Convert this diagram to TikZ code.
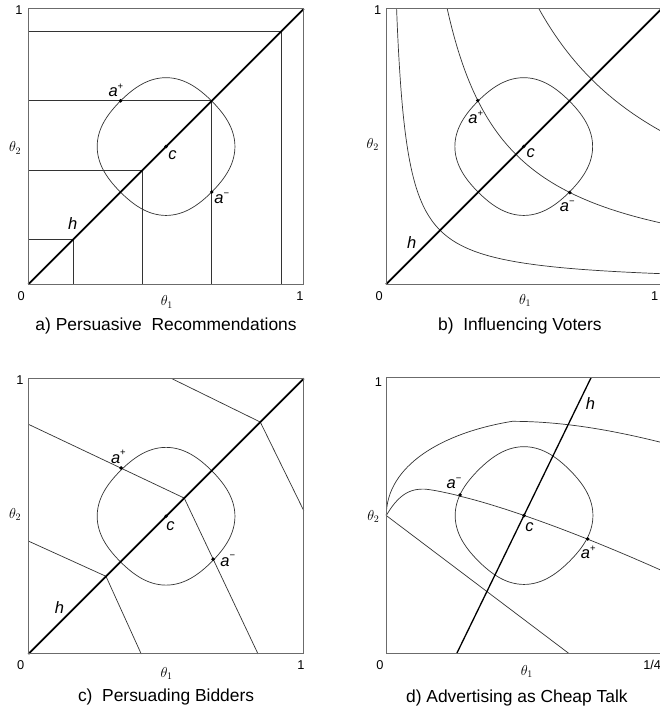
\documentclass[tikz,border=0pt]{standalone}
\usepackage{fontspec}
\setmainfont{Liberation Sans}
\newcommand\sgn[1]{\raisebox{0.45em}{\upshape\fontsize{9.5}{9.5}\selectfont #1}}
\tikzset{
  frame/.style={draw=black!58, line width=1pt},
  curve/.style={draw=black!80, line width=0.7pt},
  diag/.style={draw=black, line width=1.7pt},
  hcurve/.style={draw=black, line width=1.3pt},
  dot/.style={circle, fill=black, inner sep=0pt, minimum size=3.9pt},
  lab/.style={font=\fontsize{16.5}{16.5}\selectfont\itshape, inner sep=0pt},
  num/.style={font=\fontsize{12.8}{12.8}\selectfont, inner sep=0pt},
  captxt/.style={font=\fontsize{17.4}{17.4}\selectfont, inner sep=0pt},
  ax/.style={font=\fontsize{14}{14}\selectfont, inner sep=0pt},
  panel/.style={x=275.5pt, y=275.5pt}
}
\newcommand\blobpath{plot[variable=\t, domain=0:358, samples=180, smooth cycle] ({0.5+rr(\t)*cos(\t)}, {0.5+rr(\t)*sin(\t)})}
\begin{document}
\begin{tikzpicture}[x=1pt, y=1pt,
  declare function={rr(\t)=0.25*(1-0.032*(1-cos(4*\t)));}]
\useasboundingbox (0,0) rectangle (660,713);
\fill[white] (0,0) rectangle (660,713);

% ---------------- panel a ----------------
\begin{scope}[shift={(28.3pt,428.7pt)}, panel]
  \draw[curve] (0,0.163) -| (0.163,0);
  \draw[curve] (0,0.415) -| (0.415,0);
  \draw[curve] (0,0.666) -| (0.666,0);
  \draw[curve] (0,0.918) -| (0.918,0);
  \draw[curve] \blobpath;
  \draw[diag] (0,0) -- (1,1);
  \draw[frame] (0,0) rectangle (1,1);
  \node[dot] (ap-a) at (0.335,0.666) {};
  \node[dot] (am-a) at (0.666,0.335) {};
  \node[dot] (c-a) at (0.5,0.5) {};
  \node[lab] (apl-a) at (0.318,0.703) {a\sgn{+}};
  \node[lab] (aml-a) at (0.702,0.313) {a\sgn{−}};
  \node[lab] (cl-a) at (0.523,0.467) {c};
  \node[lab] (hl-a) at (0.161,0.220) {h};
  \node[num] (z-a) at (-0.026,-0.042) {0};
  \node[num] (x1-a) at (0.986,-0.042) {1};
  \node[num] (y1-a) at (-0.034,0.994) {1};
  \node[ax] (t1-a) at (0.503,-0.064) {$\theta_1$};
  \node[ax] (t2-a) at (-0.048,0.495) {$\theta_2$};
  \node[captxt] (cap-a) at (0.5,-0.151) {a) Persuasive\ \ Recommendations};
\end{scope}

% ---------------- panel b ----------------
\begin{scope}[shift={(386pt,428.7pt)}, panel]
  \draw[curve] plot[variable=\t, domain=0:1, samples=120] ({exp(-3.257*(1-\t))}, {exp(-3.257*\t)});
  \draw[curve] plot[variable=\t, domain=0:1, samples=80] ({exp(-1.504*(1-\t))}, {exp(-1.504*\t)});
  \draw[curve] plot[variable=\t, domain=0:1, samples=60] ({exp(-0.5888*(1-\t))}, {exp(-0.5888*\t)});
  \draw[curve] \blobpath;
  \draw[diag] (0,0) -- (1,1);
  \draw[frame] (0,0) rectangle (1,1);
  \node[dot] (ap-b) at (0.333,0.667) {};
  \node[dot] (am-b) at (0.667,0.333) {};
  \node[dot] (c-b) at (0.5,0.5) {};
  \node[lab] (apl-b) at (0.326,0.605) {a\sgn{+}};
  \node[lab] (aml-b) at (0.658,0.284) {a\sgn{−}};
  \node[lab] (cl-b) at (0.525,0.475) {c};
  \node[lab] (hl-b) at (0.093,0.151) {h};
  \node[num] (z-b) at (-0.025,-0.042) {0};
  \node[num] (x1-b) at (0.975,-0.042) {1};
  \node[num] (y1-b) at (-0.030,0.994) {1};
  \node[ax] (t1-b) at (0.505,-0.060) {$\theta_1$};
  \node[ax] (t2-b) at (-0.048,0.506) {$\theta_2$};
  \node[captxt] (cap-b) at (0.486,-0.151) {b)\ \ Influencing Voters};
\end{scope}

% ---------------- panel c ----------------
\begin{scope}[shift={(28.3pt,59pt)}, panel]
  \draw[curve] (0.52,1) -- (0.842,0.842) -- (1,0.52);
  \draw[curve] (0,0.834) -- (0.566,0.566) -- (0.834,0);
  \draw[curve] (0,0.41) -- (0.282,0.282) -- (0.41,0);
  \draw[curve] \blobpath;
  \draw[diag] (0,0) -- (1,1);
  \draw[frame] (0,0) rectangle (1,1);
  \node[dot] (ap-c) at (0.337,0.675) {};
  \node[dot] (am-c) at (0.671,0.344) {};
  \node[dot] (c-c) at (0.5,0.5) {};
  \node[lab] (apl-c) at (0.327,0.715) {a\sgn{+}};
  \node[lab] (aml-c) at (0.724,0.338) {a\sgn{−}};
  \node[lab] (cl-c) at (0.516,0.464) {c};
  \node[lab] (hl-c) at (0.113,0.168) {h};
  \node[num] (z-c) at (-0.028,-0.040) {0};
  \node[num] (x1-c) at (0.99,-0.040) {1};
  \node[num] (y1-c) at (-0.030,0.993) {1};
  \node[ax] (t1-c) at (0.502,-0.070) {$\theta_1$};
  \node[ax] (t2-c) at (-0.048,0.506) {$\theta_2$};
  \node[captxt] (cap-c) at (0.5,-0.155) {c)\ \ Persuading Bidders};
\end{scope}

% ---------------- panel d ----------------
\begin{scope}[shift={(386.3pt,59.7pt)}, panel]
  \draw[curve] (0,0.5) .. controls (0,0.68) and (0.2,0.8) .. (0.457,0.842)
               .. controls (0.64,0.842) and (0.82,0.81) .. (1,0.765);
  \draw[curve] plot[domain=0:0.1375, samples=25] (\x, {0.5+0.096*(1-(1-\x/0.138)^2.5)})
               -- plot[domain=0.1385:1, samples=60] (\x, {0.596-0.3585*(\x-0.138)^1.3});
  \draw[curve] (0,0.5) -- (0.662,0);
  \draw[curve] \blobpath;
  \draw[hcurve] (0.256,0) -- (0.743,1);
  \draw[frame] (0,0) rectangle (1,1);
  \node[dot] (am-d) at (0.268,0.575) {};
  \node[dot] (ap-d) at (0.731,0.415) {};
  \node[dot] (c-d) at (0.5,0.5) {};
  \node[lab] (aml-d) at (0.246,0.617) {a\sgn{−}};
  \node[lab] (apl-d) at (0.733,0.367) {a\sgn{+}};
  \node[lab] (cl-d) at (0.520,0.458) {c};
  \node[lab] (hl-d) at (0.741,0.907) {h};
  \node[num] (z-d) at (-0.023,-0.042) {0};
  \node[num, anchor=west] (x1-d) at (0.932,-0.042) {1/4};
  \node[num] (y1-d) at (-0.029,0.985) {1};
  \node[ax] (t1-d) at (0.510,-0.067) {$\theta_1$};
  \node[ax] (t2-d) at (-0.047,0.496) {$\theta_2$};
  \node[captxt] (cap-d) at (0.474,-0.162) {d) Advertising as Cheap Talk};
\end{scope}
\end{tikzpicture}
\end{document}
